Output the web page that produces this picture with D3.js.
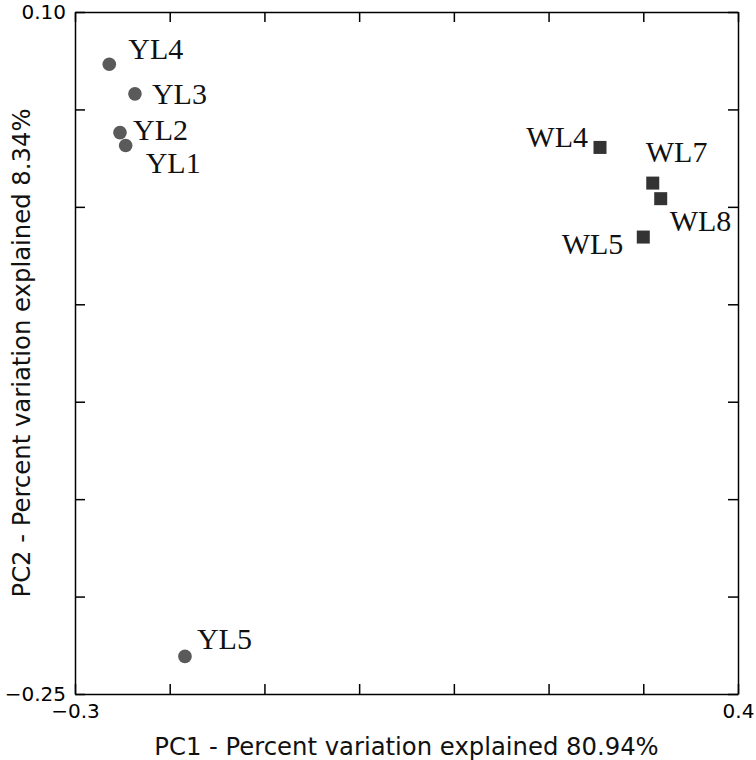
<!DOCTYPE html>
<html>
<head>
<meta charset="utf-8">
<script src="https://cdn.jsdelivr.net/npm/d3@7"></script>
<style>
  html, body { margin: 0; padding: 0; background: #ffffff; }
  svg { display: block; }
</style>
</head>
<body>
<svg id="chart" width="756" height="760"></svg>
<script>
// ---- data ----
const sampleNames = ["YL4", "YL3", "YL2", "YL1", "YL5", "WL4", "WL7", "WL8", "WL5"];
const sampleGroups = ["YL", "YL", "YL", "YL", "YL", "WL", "WL", "WL", "WL"];
const pc1Values = [-0.2638, -0.2367, -0.2525, -0.2465, -0.1839, 0.2543, 0.3100, 0.3184, 0.3000];
const pc2Values = [0.0732, 0.0580, 0.0381, 0.0315, -0.2307, 0.0305, 0.0122, 0.0042, -0.0155];

const xTickValues = [-0.3, -0.2, -0.1, 0.0, 0.1, 0.2, 0.3, 0.4];
const xTickLabels = ["\u22120.3", "", "", "", "", "", "", "0.4"];
const yTickValues = [-0.25, -0.20, -0.15, -0.10, -0.05, 0.0, 0.05, 0.10];
const yTickLabels = ["\u22120.25", "", "", "", "", "", "", "0.10"];

const xTitle = "PC1 - Percent variation explained 80.94%";
const yTitle = "PC2 - Percent variation explained 8.34%";

// label placement (pixel offsets from each marker)
const labelDx = [19, 17, 13, 20, 12, -12, -7, 9, -20];
const labelDy = [-5, 10, 7, 28, -7, 0, -21, 32, 17];
const labelAnchor = ["start", "start", "start", "start", "start", "end", "start", "start", "end"];

// ---- layout ----
const plotLeft = 75, plotRight = 738, plotTop = 12, plotBottom = 694;
const svg = d3.select("#chart");

const x = d3.scaleLinear().domain([-0.3, 0.4]).range([plotLeft, plotRight]);
const y = d3.scaleLinear().domain([-0.25, 0.10]).range([plotBottom, plotTop]);

const tickFont = "'DejaVu Sans', sans-serif";

function styleAxis(g) {
  g.attr("font-size", null).attr("font-family", null);
  g.selectAll("path.domain").attr("stroke", "#000").attr("stroke-width", 1.5);
  g.selectAll(".tick line").attr("stroke", "#000").attr("stroke-width", 1.5);
  g.selectAll(".tick text").attr("fill", "#000").style("font-family", tickFont).style("font-size", "20px");
}

svg.append("g")
  .attr("transform", `translate(0,${plotBottom})`)
  .call(d3.axisBottom(x).tickValues(xTickValues)
    .tickFormat((d, i) => xTickLabels[i]).tickSize(-10).tickSizeOuter(0).tickPadding(10))
  .call(styleAxis);

svg.append("g")
  .attr("transform", `translate(0,${plotTop})`)
  .call(d3.axisTop(x).tickValues(xTickValues)
    .tickFormat(() => "").tickSize(-10).tickSizeOuter(0))
  .call(styleAxis);

svg.append("g")
  .attr("transform", `translate(${plotLeft},0)`)
  .call(d3.axisLeft(y).tickValues(yTickValues)
    .tickFormat((d, i) => yTickLabels[i]).tickSize(-10).tickSizeOuter(0).tickPadding(9))
  .call(styleAxis);

svg.append("g")
  .attr("transform", `translate(${plotRight},0)`)
  .call(d3.axisRight(y).tickValues(yTickValues)
    .tickFormat(() => "").tickSize(-10).tickSizeOuter(0))
  .call(styleAxis);

// ---- points ----
const idx = d3.range(sampleNames.length);
const sq = 13;

svg.append("g").selectAll("circle")
  .data(idx.filter(i => sampleGroups[i] === "YL"))
  .join("circle")
  .attr("cx", i => x(pc1Values[i]))
  .attr("cy", i => y(pc2Values[i]))
  .attr("r", 6.8)
  .attr("fill", "#5a5a5a");

svg.append("g").selectAll("rect")
  .data(idx.filter(i => sampleGroups[i] === "WL"))
  .join("rect")
  .attr("x", i => x(pc1Values[i]) - sq / 2)
  .attr("y", i => y(pc2Values[i]) - sq / 2)
  .attr("width", sq)
  .attr("height", sq)
  .attr("fill", "#333333");

// ---- labels ----
svg.append("g").selectAll("text")
  .data(idx)
  .join("text")
  .attr("x", i => x(pc1Values[i]) + labelDx[i])
  .attr("y", i => y(pc2Values[i]) + labelDy[i])
  .attr("text-anchor", i => labelAnchor[i])
  .style("font-family", "'Liberation Serif', 'Times New Roman', serif")
  .style("font-size", "30px")
  .attr("fill", "#111")
  .text(i => sampleNames[i]);

// ---- axis titles ----
svg.append("text")
  .attr("x", (plotLeft + plotRight) / 2)
  .attr("y", 755)
  .attr("text-anchor", "middle")
  .style("font-family", tickFont)
  .style("font-size", "24.3px")
  .attr("fill", "#111")
  .text(xTitle);

svg.append("text")
  .attr("transform", `translate(30,${(plotTop + plotBottom) / 2}) rotate(-90)`)
  .attr("text-anchor", "middle")
  .style("font-family", tickFont)
  .style("font-size", "24.3px")
  .attr("fill", "#111")
  .text(yTitle);
</script>
</body>
</html>
